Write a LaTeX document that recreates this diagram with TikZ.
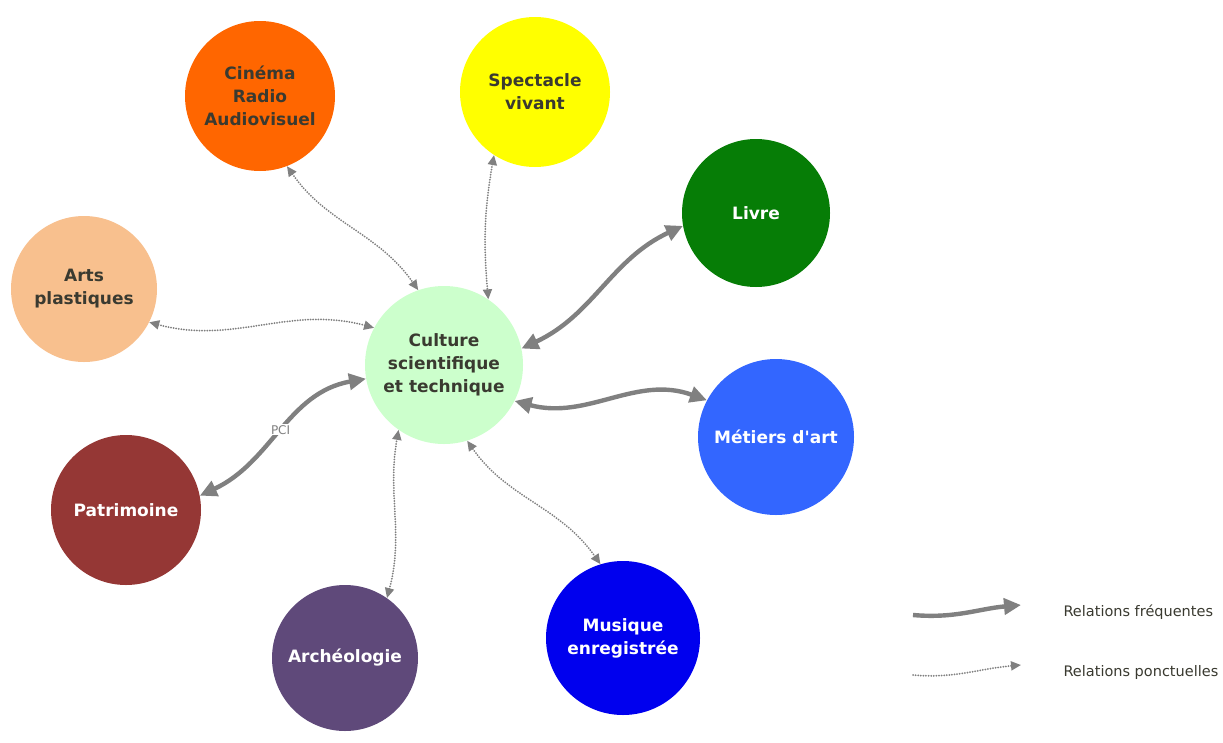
\documentclass[tikz,border=0pt]{standalone}
\usepackage{fontspec}
\setmainfont{DejaVu Sans}
\usetikzlibrary{arrows.meta}

\definecolor{cineorange}{HTML}{FF6600}
\definecolor{specjaune}{HTML}{FFFF00}
\definecolor{livrevert}{HTML}{067D06}
\definecolor{artspeche}{HTML}{F8C08E}
\definecolor{cultvert}{HTML}{CCFFCC}
\definecolor{metbleu}{HTML}{3366FF}
\definecolor{patrrouge}{HTML}{953735}
\definecolor{archviolet}{HTML}{5F497A}
\definecolor{musqbleu}{HTML}{0000EE}
\definecolor{txtfonce}{HTML}{3A3A30}
\definecolor{flechegris}{HTML}{808080}

\begin{document}
\begin{tikzpicture}[x=1pt, y=-1pt,
		bulle/.style args = {#1/#2}{%
			circle, fill=#1, text=#2, minimum size=150pt, inner sep=0pt,
			align=center, font=\fontsize{17}{23}\selectfont\bfseries},
		freq/.style = {draw=flechegris, line width=4.4pt,
			>={Triangle[length=17pt,width=16pt]}, <->},
		ponct/.style = {draw=flechegris, line width=2pt, line cap=round,
			dash pattern=on 0pt off 2.6pt,
			>={Triangle[length=10pt,width=9pt]}, <->},
		legende/.style = {text=txtfonce, font=\fontsize{14.5}{17}\selectfont}
		]
		\path[use as bounding box, fill=white] (0,0) rectangle (1223,742);
		% bulles
		\node (cine) [bulle=cineorange/txtfonce] at (260,96) {Cinéma\\Radio\\Audiovisuel};
		\node (spec) [bulle=specjaune/txtfonce] at (535,92) {Spectacle\\vivant};
		\node (livre) [bulle=livrevert/white, minimum size=148pt] at (756,213) {Livre};
		\node (arts) [bulle=artspeche/txtfonce, minimum size=146pt] at (84,289) {Arts\\plastiques};
		\node (cult) [bulle=cultvert/txtfonce, minimum size=158pt] at (444,365) {Culture\\scientifique\\et technique};
		\node (metr) [bulle=metbleu/white, minimum size=156pt] at (776,437) {Métiers d\textquotesingle art};
		\node (patr) [bulle=patrrouge/white] at (126,510) {Patrimoine};
		\node (arch) [bulle=archviolet/white, minimum size=146pt] at (345,658) {Archéologie};
		\node (musq) [bulle=musqbleu/white, minimum size=154pt] at (623,638) {Musique\\enregistrée};
		% relations frequentes
		\draw[freq] (cult.12) to[out=25,in=205] (livre.190);
		\draw[freq] (cult.-27) to[out=-15,in=160] (metr.152);
		\draw[freq] (patr.11) to[out=25,in=190]
			node[fill=white, inner sep=1pt, text=flechegris, font=\fontsize{12}{14}\selectfont] {PCI} (cult.190);
		% relations ponctuelles
		\foreach \from/\to/\o/\i in {cine.-69/cult.109/-55/125, spec.237/cult.56/-100/95,
			arts.-27/cult.152/-15/165, arch.55/cult.235/75/-100, musq.107/cult.-73/125/-55}
		\draw[ponct] (\from) to[out=\o,in=\i] (\to);
		% legende
		\coordinate (fa) at (913,615);
		\coordinate (fb) at (1021,605);
		\coordinate (pa) at (913,675);
		\coordinate (pb) at (1021,665);
		\draw[freq, ->] (fa) to[out=-5,in=185] (fb);
		\draw[ponct, ->] (pa) to[out=-5,in=185] (pb);
		\node (lfreq) [legende, anchor=west] at (1060,612) {Relations fréquentes};
		\node (lponct) [legende, anchor=west] at (1060,672) {Relations ponctuelles};
	\end{tikzpicture}
\end{document}
